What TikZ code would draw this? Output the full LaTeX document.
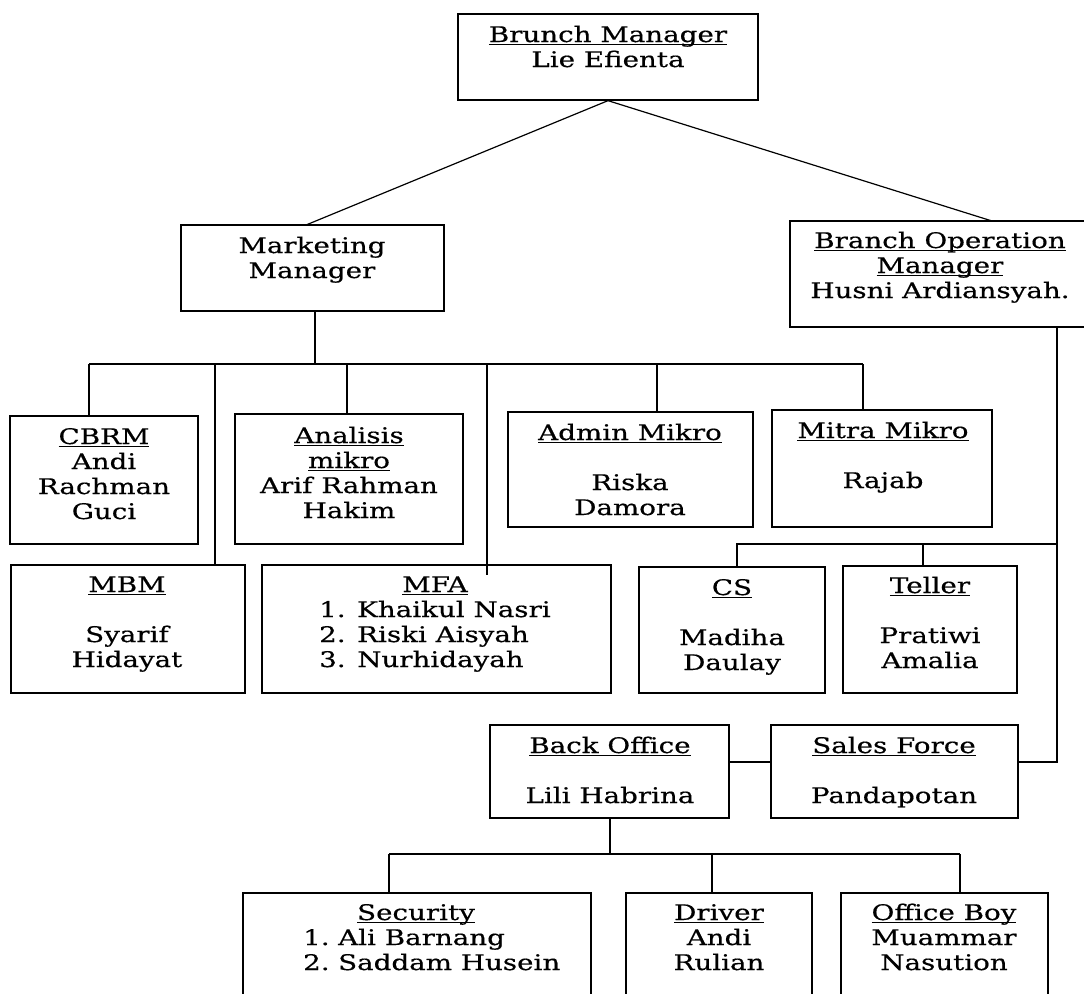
\documentclass[tikz,border=0pt]{standalone}
\usepackage{fontspec}
\setmainfont{DejaVu Serif}[FakeStretch=1.29,FakeBold=0.5]
\usetikzlibrary{fit,calc}
\newcommand\myul[1]{\leavevmode\setbox0\hbox{#1}\rlap{\rule[-3.4pt]{\wd0}{1.3pt}}\box0}
\newcommand\ctbox[1]{\begin{tabular}[t]{@{}c@{}}#1\end{tabular}}
\newcommand\lfbox[1]{\begin{tabular}[t]{@{}l@{}}#1\end{tabular}}
\tikzset{
  box/.style={draw, line width=1.3pt, inner sep=0pt},
  txt/.style={inner sep=0pt, anchor=base, font=\fontsize{21.5}{25}\selectfont},
  conn/.style={line width=1.2pt},
}
\begin{document}
\begin{tikzpicture}[x=1pt,y=-1pt]
\useasboundingbox (0,0) rectangle (1084,993);
\clip (0,0) rectangle (1084,993);
% boxes
\node[box, fit={(458,14)(758,100)}] (bm) {};
\node[box, fit={(181,225)(444,311)}] (mm) {};
\node[box, fit={(790,221)(1100,327)}] (bom) {};
\node[box, fit={(10,416)(198,544)}] (cbrm) {};
\node[box, fit={(235,414)(463,544)}] (an) {};
\node[box, fit={(508,412)(753,527)}] (ad) {};
\node[box, fit={(772,410)(992,527)}] (mi) {};
\node[box, fit={(11,565)(245,693)}] (mbm) {};
\node[box, fit={(262,565)(611,693)}] (mfa) {};
\node[box, fit={(639,567)(825,693)}] (cs) {};
\node[box, fit={(843,566)(1017,693)}] (te) {};
\node[box, fit={(490,725)(729,818)}] (bo) {};
\node[box, fit={(771,725)(1018,818)}] (sf) {};
\node[box, fit={(243,893)(591,1010)}] (sec) {};
\node[box, fit={(626,893)(812,1010)}] (dr) {};
\node[box, fit={(841,893)(1048,1010)}] (ob) {};
% texts
\node[txt] (bmt) at (608,42) {\ctbox{\myul{Brunch Manager}\\Lie Efienta}};
\node[txt] (mmt) at (312,253) {\ctbox{Marketing\\Manager}};
\node[txt] (bomt) at (940,248) {\ctbox{\myul{Branch Operation}\\\myul{Manager}\\Husni Ardiansyah.}};
\node[txt] (cbrmt) at (104,444) {\ctbox{\myul{CBRM}\\Andi\\Rachman\\Guci}};
\node[txt] (ant) at (349,443) {\ctbox{\myul{Analisis}\\\myul{mikro}\\Arif Rahman\\Hakim}};
\node[txt] (adt) at (630,440) {\ctbox{\myul{Admin Mikro}\\ \\Riska\\Damora}};
\node[txt] (mit) at (883,438) {\ctbox{\myul{Mitra Mikro}\\ \\Rajab}};
\node[txt] (mbmt) at (127,592) {\ctbox{\myul{MBM}\\ \\Syarif\\Hidayat}};
\node[txt] (mfat) at (435,592) {\ctbox{\myul{MFA}}};
\node[txt, anchor=base west] (mfal) at (319,617) {\lfbox{\makebox[38pt][l]{1.}Khaikul Nasri\\\makebox[38pt][l]{2.}Riski Aisyah\\\makebox[38pt][l]{3.}Nurhidayah}};
\node[txt] (cst) at (732,595) {\ctbox{\myul{CS}\\ \\Madiha\\Daulay}};
\node[txt] (tet) at (930,593) {\ctbox{\myul{Teller}\\ \\Pratiwi\\Amalia}};
\node[txt] (bot) at (610,753) {\ctbox{\myul{Back Office}\\ \\Lili Habrina}};
\node[txt] (sft) at (894,753) {\ctbox{\myul{Sales Force}\\ \\Pandapotan}};
\node[txt] (sect) at (416,920) {\ctbox{\myul{Security}}};
\node[txt, anchor=base west] (secl) at (303,945) {\lfbox{\makebox[35pt][l]{1.}Ali Barnang\\\makebox[35pt][l]{2.}Saddam Husein}};
\node[txt] (drt) at (719,920) {\ctbox{\myul{Driver}\\Andi\\Rulian}};
\node[txt] (obt) at (944,920) {\ctbox{\myul{Office Boy}\\Muammar\\Nasution}};
% coordinates
\coordinate (bomtop) at (992,221);
\coordinate (mmtop) at (306,225);
\coordinate (mbL) at (89,364);
\coordinate (mbR) at (863,364);
\coordinate (mbC) at (315,364);
\coordinate (mfain) at (487,575);
\coordinate (bomb) at (1057,327);
\coordinate (csbus) at (1057,544);
\coordinate (csL) at (737,544);
\coordinate (sfr) at (1057,762);
\coordinate (bob) at (610,854);
\coordinate (bbL) at (389,854);
\coordinate (bbR) at (960,854);
% connectors
\draw[conn] (bm.south) -- (mmtop);
\draw[conn] (bm.south) -- (bomtop);
\draw[conn] (mm.south -| mbC) -- (mbC);
\draw[conn] (mbL) -- (mbR);
\draw[conn] (mbL) -- (cbrm.north -| mbL);
\draw[conn] (215,364) -- (mbm.north -| 215,0);
\draw[conn] (347,364) -- (an.north -| 347,0);
\draw[conn] (487,364) -- (mfain);
\draw[conn] (657,364) -- (ad.north -| 657,0);
\draw[conn] (mbR) -- (mi.north -| mbR);
\draw[conn] (bomb) -- (sfr) -- (sf.east |- sfr);
\draw[conn] (csbus) -- (csL) -- (cs.north -| csL);
\draw[conn] (923,544) -- (te.north -| 923,0);
\draw[conn] (bo.east |- sfr) -- (sf.west |- sfr);
\draw[conn] (bo.south -| bob) -- (bob);
\draw[conn] (bbL) -- (bbR);
\draw[conn] (bbL) -- (sec.north -| bbL);
\draw[conn] (712,854) -- (dr.north -| 712,0);
\draw[conn] (bbR) -- (ob.north -| bbR);
\end{tikzpicture}
\end{document}
